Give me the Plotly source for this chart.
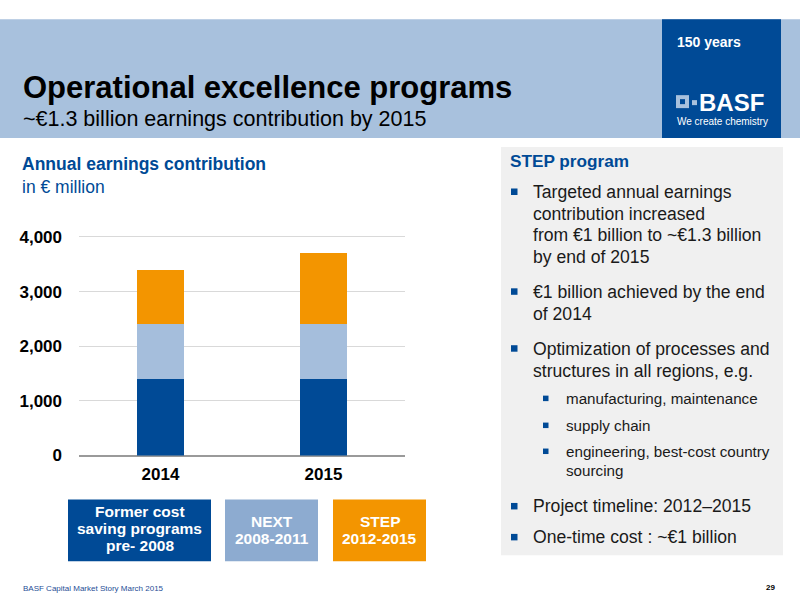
import plotly.graph_objects as go

# ---- data ----
years = ["2014", "2015"]
former_programs = [1400, 1400]
next_program = [1000, 1000]
step_program = [1000, 1300]
series_names = ["Former cost saving programs pre- 2008", "NEXT 2008-2011", "STEP 2012-2015"]
y_ticks = [0, 1000, 2000, 3000, 4000]
y_tick_labels = ["0", "1,000", "2,000", "3,000", "4,000"]

DARK = "#004A96"
LIGHT = "#A5BEDC"
LEGEND_LIGHT = "#8DABD0"
ORANGE = "#F39500"
FONT = "Liberation Sans"
W, H = 800, 600

def py(p):
    # vertical page position (px from top) -> paper fraction, with render correction
    q = (p - 1.7) / 0.98
    return 1 - q / H

def px(p):
    return p / W

fig = go.Figure()
for vals, col, name in zip([former_programs, next_program, step_program],
                           [DARK, LIGHT, ORANGE], series_names):
    fig.add_trace(go.Bar(x=years, y=vals, marker=dict(color=col, line=dict(width=0)),
                         name=name, showlegend=False, hoverinfo="skip"))

shapes = []
annotations = []

def rect(x0, y0, x1, y1, color):
    shapes.append(dict(type="rect", xref="paper", yref="paper",
                       x0=px(x0), x1=px(x1), y0=py(y1), y1=py(y0),
                       fillcolor=color, line=dict(width=0), layer="below"))

def text(x, y, s, size, color="#000000", bold=False, anchor="left", family=FONT):
    annotations.append(dict(xref="paper", yref="paper", x=px(x), y=py(y), text=s,
                            showarrow=False, xanchor=anchor, yanchor="middle",
                            font=dict(size=size, color=color, family=family,
                                      weight="bold" if bold else "normal"),
                            align="center"))

# header band
rect(0, 18, 800, 137, "#A8C1DD")
rect(662, 18, 781, 137, DARK)
text(21, 86, "Operational excellence programs", 31, bold=True)
text(21, 118, "~€1.3 billion earnings contribution by 2015", 21.5)
text(675, 41, "150 years", 14, color="white", bold=True)
# logo
rect(676, 94, 689, 107, "#A8C1DD")
rect(680, 98, 685, 103, DARK)
rect(692, 99, 697, 104, "#A8C1DD")
text(697, 101, "BASF", 24, color="white", bold=True)
text(675, 120, "We create chemistry", 10, color="white")

# chart titles
text(20, 163, "Annual earnings contribution", 17.5, color=DARK, bold=True)
text(20, 186, "in € million", 17.5, color=DARK)

# legend boxes
rect(68, 499, 211, 561, DARK)
rect(225, 499, 318, 561, LEGEND_LIGHT)
rect(333, 499, 426, 561, ORANGE)
for y, s in [(511, "Former cost"), (528, "saving programs"), (545, "pre- 2008")]:
    text(139.5, y, s, 15.5, color="white", bold=True, anchor="center")
for y, s in [(521, "NEXT"), (538, "2008-2011")]:
    text(271.5, y, s, 15.5, color="white", bold=True, anchor="center")
for y, s in [(521, "STEP"), (538, "2012-2015")]:
    text(379.5, y, s, 15.5, color="white", bold=True, anchor="center")

# right panel
rect(501, 146, 783, 555, "#F0F0F0")
text(508, 160, "STEP program", 17.2, color=DARK, bold=True)
TXT = "#1A1A1A"
main_lines = [
    (191, "Targeted annual earnings", True),
    (213, "contribution increased", False),
    (234, "from €1 billion to ~€1.3 billion", False),
    (256, "by end of 2015", False),
    (291, "€1 billion achieved by the end", True),
    (313, "of 2014", False),
    (348, "Optimization of processes and", True),
    (370, "structures in all regions, e.g.", False),
    (506, "Project timeline: 2012–2015", True),
    (537, "One-time cost : ~€1 billion", True),
]
for y, s, bullet in main_lines:
    text(531, y, s, 17.6, color=TXT)
    if bullet:
        rect(511, y - 3.5, 517.5, y + 3, DARK)
sub_lines = [
    (398, "manufacturing, maintenance", True),
    (425, "supply chain", True),
    (451, "engineering, best-cost country", True),
    (470, "sourcing", False),
]
for y, s, bullet in sub_lines:
    text(564, y, s, 15.2, color=TXT)
    if bullet:
        rect(543, y - 3, 548.5, y + 2.5, DARK)

# footer
text(21, 588, "BASF Capital Market Story March 2015", 8, color="#1F4E96")
text(777, 587, "29", 8, color="#000000", bold=True, anchor="right")

ymax = 4100
zero_px = 455
top_px = zero_px - 219 * ymax / 4000

fig.update_layout(
    width=W, height=H,
    margin=dict(l=0, r=0, t=0, b=0),
    paper_bgcolor="white", plot_bgcolor="white",
    barmode="stack", bargap=0.71,
    shapes=shapes, annotations=annotations,
    font=dict(family=FONT),
    xaxis=dict(domain=[px(79), px(405)], showgrid=False, zeroline=False,
               showline=False, ticks="", ticklabelstandoff=6, fixedrange=True,
               tickfont=dict(size=17, color="#000", family=FONT, weight="bold")),
    yaxis=dict(domain=[py(zero_px), py(top_px)], range=[0, ymax], fixedrange=True,
               tickvals=y_ticks, ticktext=y_tick_labels,
               showgrid=True, gridcolor="#D9D9D9", gridwidth=1,
               zeroline=True, zerolinecolor="#9A9A9A", zerolinewidth=1.5,
               showline=False, ticks="", ticklabelstandoff=16,
               tickfont=dict(size=17, color="#000", family=FONT, weight="bold")),
)

fig.write_html(
    "out.html",
    config={"displayModeBar": False, "responsive": False},
    post_script=(
        "document.documentElement.style.margin='0px';"
        "document.body.style.margin='0px';"
        "document.documentElement.style.overflow='hidden';"
        "document.body.style.overflow='hidden';"
    ),
)
